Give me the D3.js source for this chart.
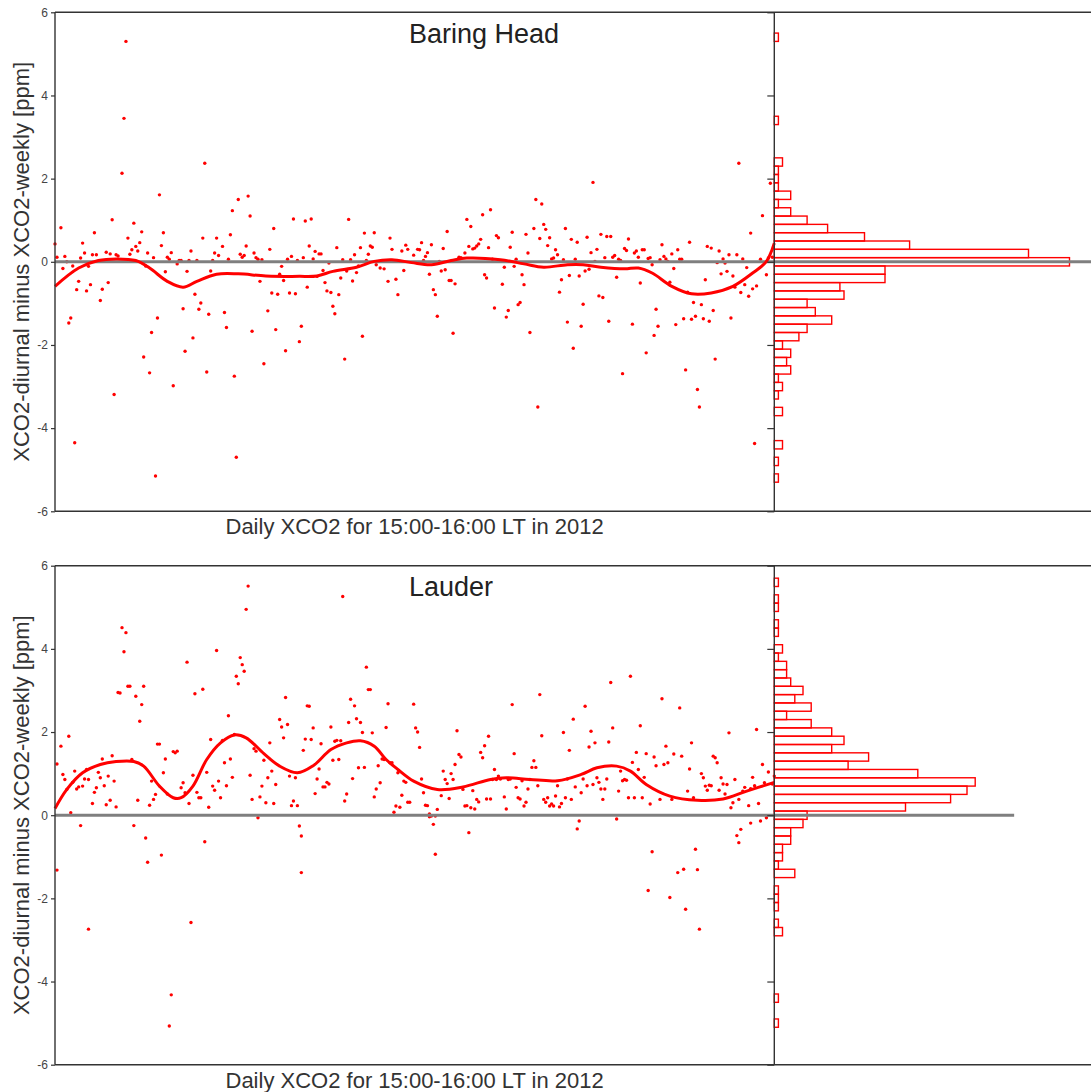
<!DOCTYPE html>
<html>
<head>
<meta charset="utf-8">
<script src="https://cdn.jsdelivr.net/npm/d3@7"></script>
<style>
  body { margin: 0; background: #fff; }
  svg { display: block; font-family: "Liberation Sans", Arial, Helvetica, sans-serif; }
</style>
</head>
<body>
<div id="chart"></div>
<script>
// ---- data ----
const yTicks = [-6, -4, -2, 0, 2, 4, 6];
const xLabel = "Daily XCO2 for 15:00-16:00 LT in 2012";
const yLabel = "XCO2-diurnal minus XCO2-weekly [ppm]";
const stations = ["Baring Head", "Lauder"];

// [day of year, ppm]
const baringPoints = [[1,0.43],[2,0.11],[4,0.82],[5,-0.16],[6,0.13],[7,0.0],[8,-1.47],[9,-1.35],[10,-0.1],[11,-4.35],[12,-0.67],[13,-0.47],[14,0.09],[15,0.45],[16,0.21],[17,-0.7],[18,-0.11],[19,-0.55],[20,0.17],[21,0.7],[22,0.17],[24,-0.93],[25,-0.66],[27,0.23],[28,-0.5],[29,0.19],[30,1.01],[31,-3.19],[32,0.17],[33,0.14],[35,2.13],[36,3.45],[37,5.3],[38,0.57],[39,0.18],[40,0.29],[41,0.93],[42,0.37],[43,0.26],[44,0.46],[45,0.72],[46,-2.29],[47,-0.1],[48,0.21],[49,-2.67],[50,-1.7],[51,0.1],[52,-5.15],[53,-1.35],[54,1.61],[55,0.39],[56,0.7],[57,-0.24],[58,0.11],[59,0.06],[60,0.22],[61,-2.98],[63,-0.05],[64,0.03],[65,0.03],[66,-1.13],[67,-2.15],[68,-0.23],[69,0.03],[70,0.26],[71,-1.83],[72,-0.78],[73,0.03],[74,-1.14],[75,-0.99],[76,0.57],[77,2.37],[78,-2.65],[79,-1.26],[80,-0.22],[81,0.03],[82,0.21],[83,0.57],[84,0.15],[86,0.37],[87,-1.22],[88,-1.58],[89,0.06],[90,0.65],[91,1.23],[92,-2.75],[93,-4.7],[94,1.5],[95,0.18],[96,0.11],[97,0.15],[98,0.38],[99,1.58],[100,1.1],[101,-1.67],[102,0.21],[103,0.1],[104,0.06],[105,-0.47],[106,0.05],[107,-2.45],[109,-1.18],[110,0.3],[111,-0.75],[112,0.8],[113,-1.63],[114,-0.78],[115,-0.3],[116,-0.11],[117,-0.45],[118,-2.14],[119,0.06],[120,-0.75],[121,0.13],[122,1.03],[123,-0.77],[124,0.03],[125,-1.92],[126,-1.55],[127,0.1],[128,0.98],[129,-0.61],[130,0.38],[131,1.03],[132,0.07],[133,0.25],[134,-0.35],[135,0.19],[136,0.19],[137,-0.21],[138,-0.5],[139,-0.7],[140,-0.03],[141,-0.74],[142,-1.07],[143,-1.25],[144,0.34],[145,-0.79],[146,-0.39],[147,0.05],[148,-2.34],[149,-0.22],[150,1.02],[151,0.05],[152,-0.46],[153,0.17],[154,-0.26],[155,-0.1],[156,0.34],[157,-1.79],[158,0.69],[159,0.03],[160,0.18],[161,0.38],[162,0.35],[163,0.7],[164,-0.07],[166,-0.15],[168,-0.17],[170,-0.47],[171,0.57],[172,0.3],[174,-0.42],[175,-0.79],[177,0.26],[178,-0.21],[179,0.4],[180,0.3],[183,0.16],
  [185,0.3],[186,0.29],[187,0.46],[188,0.03],[189,0.13],[190,0.22],[191,-0.3],[192,0.41],[193,-0.67],[194,-0.79],[195,-1.31],[196,0.01],[197,-0.22],[198,0.32],[199,-0.19],[200,0.73],[201,-0.45],[202,-0.45],[203,-1.72],[204,-0.53],[206,0.11],[207,0.1],[209,0.21],[210,1.02],[211,0.37],[212,0.85],[213,0.31],[214,0.33],[215,0.38],[216,0.43],[217,0.54],[218,1.13],[219,-0.31],[220,-0.39],[221,0.34],[222,1.25],[223,0.06],[224,-1.11],[225,0.63],[226,0.58],[228,-0.54],[229,-0.13],[230,-1.33],[231,-1.17],[232,0.35],[233,0.71],[234,-0.11],[235,0.06],[236,-1.03],[237,-0.98],[238,-0.31],[239,-0.55],[240,0.66],[241,0.21],[242,-1.7],[244,0.8],[245,1.5],[246,-3.49],[247,0.56],[248,1.39],[249,0.9],[250,0.78],[251,0.39],[252,0.58],[253,0.07],[254,0.09],[255,0.29],[256,0.17],[257,-0.73],[258,-0.43],[259,0.05],[260,0.8],[261,-1.45],[262,-0.33],[263,0.54],[264,-2.08],[265,0.06],[266,0.47],[267,-0.34],[268,-1.55],[269,-1.02],[270,-0.22],[271,0.59],[272,-0.18],[273,0.22],[274,1.91],[275,0.01],[276,0.3],[277,-0.82],[278,0.66],[279,-0.86],[280,0.1],[281,0.61],[282,-1.43],[283,0.61],[284,0.11],[285,0.15],[286,-0.37],[287,0.06],[288,0.03],[289,-2.69],[290,0.32],[291,0.27],[292,0.55],[294,-1.5],[295,0.21],[296,0.26],[297,0.11],[298,-0.51],[299,0.29],[300,0.29],[301,-2.19],[302,0.08],[303,0.1],[304,-0.07],[305,-1.77],[306,-1.14],[307,-1.55],[308,0.05],[309,0.41],[310,0.13],[311,0.07],[312,0.01],[313,-0.49],[314,0.19],[315,-0.16],[316,-1.51],[317,0.29],[318,0.06],[319,0.06],[320,-1.37],[321,-2.6],[322,-0.73],[323,0.47],[324,-1.38],[325,-0.98],[326,-1.31],[327,-3.07],[328,-3.49],[329,-1.03],[330,-1.37],[331,-0.43],[332,0.37],[333,-1.43],[334,0.33],[335,-1.17],[336,-2.34],[337,-0.02],[338,0.26],[339,-0.29],[340,0.07],[341,-0.03],[342,-0.23],[343,0.17],[344,-1.35],[345,-0.34],[346,-0.61],[347,0.17],[348,2.37],[349,-0.74],[350,0.07],[351,-0.55],[352,-0.14],[353,-0.83],[354,0.69],[355,-0.65],[356,-4.37],[357,-0.58],[359,0.06],[360,1.11],[362,-0.31],[363,0.09],[364,1.89],[365,0.11]];

const lauderPoints = [[2,1.23],[2,-1.32],[4,1.66],[5,0.98],[6,0.86],[7,0.62],[8,1.9],[9,0.06],[10,0.79],[11,1.06],[12,0.63],[13,0.68],[14,-0.25],[15,0.7],[16,0.87],[17,1.1],[18,-2.74],[18,0.86],[20,0.28],[21,0.55],[22,0.66],[23,1.03],[24,0.9],[25,1.35],[26,0.71],[27,0.25],[28,0.94],[29,0.36],[30,1.43],[31,0.82],[32,0.2],[33,2.95],[34,2.94],[35,4.51],[36,3.93],[37,4.39],[38,3.1],[39,3.1],[40,1.34],[41,-0.25],[42,2.86],[43,0.36],[44,2.26],[45,2.66],[46,3.1],[47,-0.55],[48,-1.13],[49,0.24],[50,0.82],[51,0.38],[52,0.5],[53,1.71],[54,1.71],[55,-0.96],[56,1.02],[57,1.35],[58,0.51],[59,-5.07],[60,-4.32],[61,1.53],[62,1.5],[63,1.54],[65,0.66],[66,0.78],[67,0.54],[68,3.68],[69,0.28],[70,-2.58],[71,0.96],[72,2.92],[73,0.55],[74,0.42],[75,0.42],[76,3.03],[77,-0.64],[78,1.03],[79,0.19],[80,1.82],[81,0.7],[82,0.6],[83,3.96],[84,0.82],[85,0.42],[86,1.8],[87,1.26],[88,0.71],[89,2.39],[90,1.35],[91,0.91],[92,1.94],[93,3.34],[94,3.16],[95,3.79],[96,3.62],[97,3.46],[98,4.95],[99,5.51],[100,0.96],[101,0.38],[102,1.6],[103,1.54],[104,-0.06],[105,0.44],[106,0.7],[107,1.32],[108,0.3],[109,0.9],[110,1.74],[111,1.06],[112,0.28],[113,0.74],[115,2.3],[116,2.12],[117,1.86],[118,2.83],[119,2.18],[120,0.94],[121,0.23],[122,0.34],[123,0.9],[124,0.23],[125,-0.26],[126,-1.38],[126,-0.5],[127,1.56],[128,1.83],[129,2.63],[130,2.62],[131,1.82],[132,2.1],[133,0.52],[134,0.87],[135,1.11],[136,1.72],[137,0.68],[138,0.68],[139,0.79],[140,0.75],[141,2.12],[142,1.32],[143,1.78],[144,1.8],[145,1.34],[146,1.79],[147,5.26],[148,0.34],[149,0.51],[150,2.23],[151,2.79],[152,0.88],[153,2.63],[154,2.32],[155,1.14],[156,2.23],[157,1.99],[158,1.15],[159,3.56],[160,3.02],[161,3.02],[162,1.98],[163,0.44],[164,0.63],[165,1.19],[166,0.78],[167,1.35],[168,1.34],[169,2.11],[170,2.68],[171,1.26],[172,1.26],[173,0.07],[174,0.22],
  [175,1.02],[176,0.19],[177,0.48],[178,0.82],[179,0.79],[180,0.31],[181,0.31],[183,2.67],[184,2.1],[185,2.0],[186,1.63],[187,0.87],[188,0.54],[189,0.24],[190,0.23],[191,0.03],[191,-0.04],[192,-0.02],[193,-0.22],[194,-0.94],[194,-0.02],[195,0.14],[197,0.47],[198,1.06],[199,0.86],[200,0.76],[201,0.4],[202,1.0],[203,0.86],[204,1.22],[205,2.03],[206,1.46],[207,1.4],[208,0.62],[209,0.22],[210,0.23],[211,-0.42],[212,0.18],[213,0.59],[214,0.15],[215,0.38],[216,0.32],[217,1.51],[218,1.38],[219,1.67],[220,0.39],[221,1.9],[222,0.39],[223,0.86],[224,1.1],[225,0.86],[226,0.94],[227,0.87],[229,0.44],[230,0.15],[231,0.86],[232,0.87],[233,2.66],[234,1.48],[235,0.67],[236,0.42],[237,0.39],[238,0.83],[239,0.22],[240,0.31],[241,0.63],[242,0.86],[243,1.15],[244,1.31],[245,1.15],[246,0.71],[247,2.9],[248,1.91],[249,0.38],[250,0.31],[251,0.42],[252,0.22],[253,0.27],[254,0.22],[255,0.46],[256,0.71],[257,0.2],[258,0.28],[259,1.99],[260,0.42],[261,0.87],[262,1.56],[263,0.38],[264,2.31],[265,0.68],[266,-0.33],[267,-0.14],[268,0.54],[269,0.87],[270,2.62],[271,0.71],[272,1.64],[273,2.02],[274,0.74],[275,1.74],[276,0.9],[277,0.79],[278,0.63],[279,0.38],[280,0.63],[281,0.87],[282,1.76],[283,3.19],[284,2.1],[286,-0.09],[287,0.58],[288,1.06],[289,0.83],[290,0.86],[291,0.84],[292,0.42],[293,3.34],[294,1.27],[295,0.42],[296,1.51],[297,1.1],[298,2.15],[299,0.42],[300,0.91],[301,1.48],[302,-1.81],[303,0.27],[304,-0.88],[305,1.4],[306,1.19],[308,0.38],[309,2.8],[310,1.22],[311,1.66],[312,1.26],[313,-1.98],[314,0.38],[315,1.47],[317,-1.38],[318,2.58],[319,1.42],[320,-1.3],[321,-2.26],[322,0.58],[323,1.11],[324,1.74],[325,0.42],[326,-0.82],[327,-1.31],[328,-2.74],[329,1.0],[330,0.9],[331,0.7],[332,0.6],[333,0.72],[334,0.71],[335,1.42],[336,1.38],[337,1.26],[338,0.6],[339,0.9],[340,0.75],[341,0.51],[342,0.74],[343,1.98],[344,0.18],[345,0.3],[346,0.86],[347,-0.49],[348,0.38],[348,-0.66],[349,-0.34],[350,0.58],[351,0.67],[353,0.23],[354,0.64],[354,-0.19],[355,0.91],[356,0.71],[357,2.06],[358,0.28],[359,-0.14],[360,1.22],[361,0.78],[362,-0.06],[363,1.04],[365,0.75],[366,0.94]];

// smoothed fit [day, ppm]
const baringFit = [[1,-0.59],[13,-0.15],[23,0.03],[32,0.07],[42,0.03],[49,-0.15],[58,-0.47],[66,-0.61],[73,-0.47],[83,-0.30],[94,-0.29],[108,-0.34],[125,-0.35],[134,-0.34],[142,-0.23],[154,-0.13],[163,0.01],[172,0.05],[182,-0.02],[192,-0.07],[202,0.03],[210,0.09],[227,0.05],[239,-0.05],[249,-0.13],[261,-0.07],[269,-0.07],[278,-0.13],[290,-0.17],[297,-0.15],[304,-0.27],[314,-0.59],[324,-0.77],[334,-0.75],[345,-0.59],[355,-0.27],[362,0.01],[366,0.45]];
const lauderFit = [[1,0.16],[7,0.62],[15,1.02],[24,1.22],[32,1.29],[41,1.29],[46,1.18],[54,0.70],[61,0.42],[65,0.42],[71,0.70],[78,1.34],[85,1.74],[92,1.93],[98,1.86],[107,1.48],[115,1.18],[124,1.02],[132,1.19],[141,1.58],[149,1.74],[156,1.79],[163,1.66],[169,1.34],[175,1.10],[183,0.82],[195,0.62],[208,0.68],[222,0.86],[230,0.90],[242,0.86],[256,0.83],[268,0.98],[276,1.14],[286,1.18],[293,1.06],[301,0.74],[313,0.46],[327,0.36],[340,0.39],[352,0.58],[366,0.79]];

// histograms: bin centre (ppm, bin width 0.2) and count
const baringBins   = [5.4, 3.4, 2.4, 2.2, 2.0, 1.8, 1.6, 1.4, 1.2, 1.0, 0.8, 0.6, 0.4, 0.2, 0.0, -0.2, -0.4, -0.6, -0.8, -1.0, -1.2, -1.4, -1.6, -1.8, -2.0, -2.2, -2.4, -2.6, -2.8, -3.0, -3.2, -3.6, -4.4, -4.8, -5.2];
const baringCounts = [1,   1,   2,   1,   1,   1,   4,   1,   4,   8,   13,  22,  33,  62,  72,  27,   27,   16,   17,   8,    10,   14,   8,    6,    2,    4,    3,    4,    1,    2,    1,    2,    2,    1,    1];
const lauderBins   = [5.6, 5.2, 5.0, 4.6, 4.4, 4.0, 3.8, 3.6, 3.4, 3.2, 3.0, 2.8, 2.6, 2.4, 2.2, 2.0, 1.8, 1.6, 1.4, 1.2, 1.0, 0.8, 0.6, 0.4, 0.2, 0.0, -0.2, -0.4, -0.6, -0.8, -1.0, -1.2, -1.4, -1.8, -2.0, -2.2, -2.6, -2.8, -4.4, -5.0];
const lauderCounts = [1,   1,   1,   1,   1,   2,   1,   3,   3,   4,   7,   5,   9,   3,   9,   14,  17,  14,  23,  18,  35,  49,  47,  43,  32,  8,   7,    4,    4,    2,    2,    1,    5,    1,    1,    1,    1,    2,    1,    1];
// count where the zero line of each histogram stops
const zeroLineEnd = [90, 58.5];

// ---- layout ----
const WIDTH = 1091, HEIGHT = 1092;
const LEFT = 55, SPLIT = 774.3;
const PANEL_H = 499;
const TOPS = [12.3, 565.7];
const RED = "#ff0000";
const AXIS = "#333";

const svg = d3.select("#chart").append("svg").attr("width", WIDTH).attr("height", HEIGHT)

const x_scale = d3.scaleLinear().domain([1, 366]).range([LEFT, SPLIT])
const h_scale = d3.scaleLinear().domain([0, 80]).range([SPLIT, SPLIT + 80 * 4.1])

const panels = [
    {name: stations[0], points: baringPoints, fit: baringFit, bins: baringBins, counts: baringCounts},
    {name: stations[1], points: lauderPoints, fit: lauderFit, bins: lauderBins, counts: lauderCounts}
]

panels.forEach((p, i) => {
    const top = TOPS[i]
    const y_scale = d3.scaleLinear().domain([-6, 6]).range([top + PANEL_H, top])
    const g = svg.append("g")

    // histogram bars
    const hist = p.bins.map((b, k) => ({c: b, n: p.counts[k]}))
    g.selectAll("rect.bar").data(hist).enter().append("rect").attr("class", "bar")
        .attr("x", h_scale(0)).attr("y", d => y_scale(d.c + 0.1))
        .attr("width", d => h_scale(d.n) - h_scale(0))
        .attr("height", d => y_scale(d.c - 0.1) - y_scale(d.c + 0.1))
        .attr("fill", "none").attr("stroke", RED).attr("stroke-width", 1.4)

    // scatter points
    g.selectAll("circle").data(p.points).enter().append("circle")
        .attr("cx", d => x_scale(d[0])).attr("cy", d => y_scale(d[1]))
        .attr("r", 1.7).attr("fill", RED)

    // zero line through scatter and histogram
    g.append("line").attr("x1", LEFT).attr("x2", Math.min(WIDTH, h_scale(zeroLineEnd[i])))
        .attr("y1", y_scale(0)).attr("y2", y_scale(0))
        .attr("stroke", "#7f7f7f").attr("stroke-width", 3)

    // smooth fit
    const line = d3.line().x(d => x_scale(d[0])).y(d => y_scale(d[1])).curve(d3.curveCatmullRom)
    g.append("path").datum(p.fit).attr("d", line)
        .attr("fill", "none").attr("stroke", RED).attr("stroke-width", 3).attr("stroke-linejoin", "round")

    // frame
    const frame = [[LEFT, top, WIDTH, top], [LEFT, top + PANEL_H, WIDTH, top + PANEL_H],
                   [LEFT, top, LEFT, top + PANEL_H], [SPLIT, top, SPLIT, top + PANEL_H]]
    frame.forEach(f => {
        g.append("line").attr("x1", f[0]).attr("y1", f[1]).attr("x2", f[2]).attr("y2", f[3])
            .attr("stroke", AXIS).attr("stroke-width", 1.4)
    })

    // left axis with labels (plain hyphen for negatives, as in the original)
    const gen_y = d3.axisLeft(y_scale).tickValues(yTicks).tickSize(4).tickPadding(3).tickSizeOuter(0)
        .tickFormat(d => String(d))
    const ax = g.append("g").attr("transform", "translate(" + LEFT + ",0)").call(gen_y)
    ax.select(".domain").remove()
    ax.selectAll("line").attr("stroke", AXIS).attr("stroke-width", 1.2)
    ax.selectAll("text").attr("fill", "#444").style("font-size", "12px")
        .style("font-family", "'Liberation Sans', Arial, sans-serif")

    // histogram's own ticks (pointing into scatter)
    const gen_h = d3.axisLeft(y_scale).tickValues(yTicks).tickSize(7).tickFormat("").tickSizeOuter(0)
    const hx = g.append("g").attr("transform", "translate(" + SPLIT + ",0)").call(gen_h)
    hx.select(".domain").remove()
    hx.selectAll("line").attr("stroke", AXIS).attr("stroke-width", 1.2)

    // texts
    g.append("text").attr("x", 409).attr("y", top + 30.4).text(p.name)
        .attr("font-size", "27px").attr("fill", "#222")
    g.append("text").attr("x", (LEFT + SPLIT) / 2).attr("y", top + PANEL_H + 23)
        .attr("text-anchor", "middle").attr("font-size", "22px").attr("fill", "#333").text(xLabel)
    g.append("text").attr("transform", "translate(29," + (top + PANEL_H / 2) + ") rotate(-90)")
        .attr("text-anchor", "middle").attr("font-size", "22px").attr("fill", "#333").text(yLabel)
})
</script>
</body>
</html>
